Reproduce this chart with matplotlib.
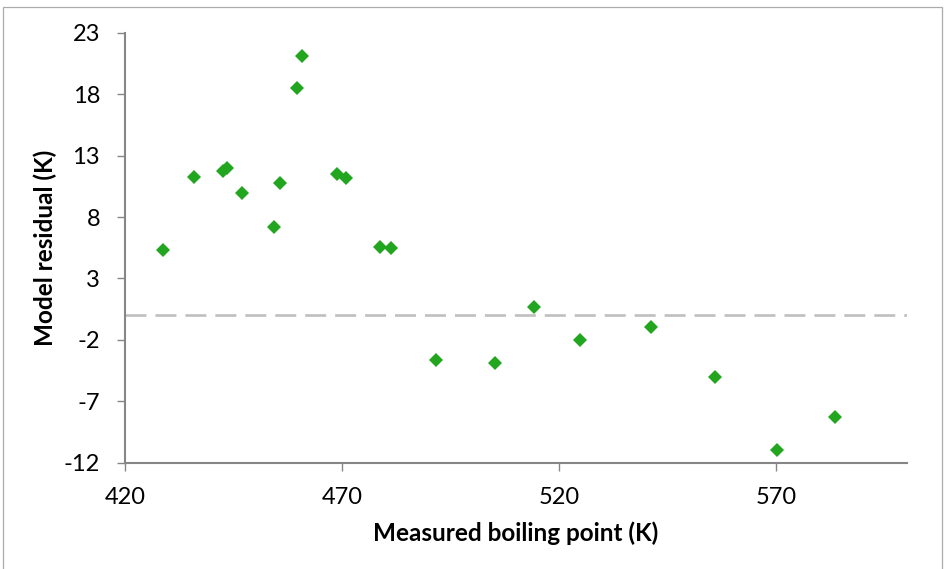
import matplotlib.pyplot as plt
from matplotlib.patches import Rectangle

# measured boiling point (K) and model residual (K)
boiling_point = [428.8, 435.8, 442.6, 443.4, 447.0, 454.4, 455.7, 459.7, 460.7,
                 468.9, 470.9, 478.8, 481.2, 491.6, 505.3, 514.2, 524.7, 541.1,
                 555.9, 570.1, 583.4]
residual = [5.3, 11.26, 11.75, 12.02, 9.96, 7.17, 10.8, 18.47, 21.13,
            11.53, 11.15, 5.54, 5.46, -3.63, -3.85, 0.71, -1.98, -0.97,
            -5.01, -10.93, -8.27]

xticks = [420, 470, 520, 570]
yticks = [-12, -7, -2, 3, 8, 13, 18, 23]

plt.rcParams['font.family'] = ['Lato', 'DejaVu Sans']
plt.rcParams['axes.unicode_minus'] = False

fig = plt.figure(figsize=(9.45, 5.69), dpi=100)
ax = fig.add_axes([0.1323, 0.1868, 0.8272, 0.7557])

# outer chart border
fig.patches.append(Rectangle((3.5 / 945, -0.05), 939 / 945, 1 - 7.3 / 569 + 0.05,
                             transform=fig.transFigure, fill=False,
                             edgecolor='#ababab', linewidth=0.9))

ax.axhline(0, color='#bfbfbf', linewidth=1.9, linestyle=(0, (7.95, 3.4)), zorder=1)
ax.plot(boiling_point, residual, linestyle='none', marker='D', markersize=7.2,
        color='#23a61f', markeredgewidth=0, zorder=3)

ax.set_xlim(420, 600)
ax.set_ylim(-12, 23)
ax.set_xticks(xticks)
ax.set_yticks(yticks)

for side in ['top', 'right']:
    ax.spines[side].set_visible(False)
for side in ['left', 'bottom']:
    ax.spines[side].set_color('#868686')
    ax.spines[side].set_linewidth(1.5)

ax.tick_params(axis='both', direction='out', length=6, width=1, color='#868686',
               labelsize=17, labelcolor='#000000')
ax.tick_params(axis='y', pad=12)
ax.tick_params(axis='x', pad=11.5)

ax.set_xlabel('Measured boiling point (K)', fontsize=17.5, fontweight='bold', labelpad=10)
ax.set_ylabel('Model residual (K)', fontsize=17.5, fontweight='bold', labelpad=5)

fig.savefig('out.png', dpi=100)
